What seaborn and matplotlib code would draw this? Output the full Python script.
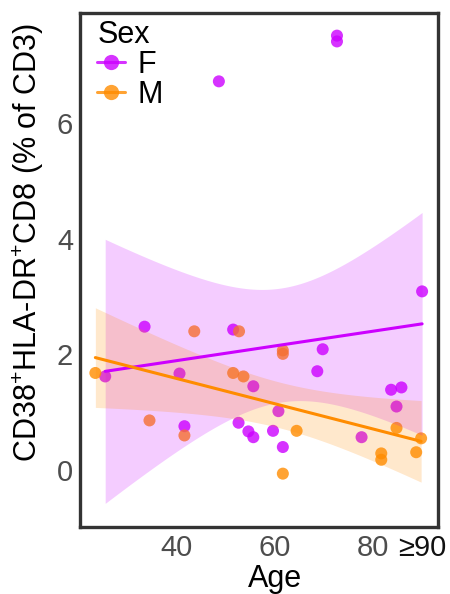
import numpy as np
import pandas as pd
import matplotlib
matplotlib.use("Agg")
import matplotlib.pyplot as plt
from matplotlib.lines import Line2D
import seaborn as sns

# ---- data ----
age_F = [33.6, 25.6, 40.7, 51.6, 41.7, 55.7, 52.7, 54.7, 55.7, 59.7, 60.8,
         61.7, 69.8, 68.7, 77.7, 83.7, 85.8, 84.8, 48.7, 72.7, 72.7, 90.0]
val_F = [2.48, 1.62, 1.67, 2.43, 0.76, 1.45, 0.82, 0.67, 0.57, 0.68, 1.02,
         0.40, 2.09, 1.71, 0.57, 1.39, 1.43, 1.10, 6.72, 7.51, 7.41, 3.09]
age_M = [23.6, 43.7, 52.8, 61.7, 61.7, 51.6, 53.7, 34.6, 41.7, 64.5, 61.7,
         84.8, 81.7, 81.7, 88.8, 89.8]
val_M = [1.68, 2.40, 2.40, 2.07, 2.01, 1.68, 1.62, 0.86, 0.60, 0.68, -0.06,
         0.73, 0.29, 0.18, 0.31, 0.55]
sex_levels = ["F", "M"]
x_ticks = [40, 60, 80, 90]
x_ticklabels = ["40", "60", "80", "\u226590"]
y_ticks = [0, 2, 4, 6]

colors = {"F": "#cc00ff", "M": "#ff8c00"}

df = pd.DataFrame({
    "Age": age_F + age_M,
    "Value": val_F + val_M,
    "Sex": ["F"] * len(age_F) + ["M"] * len(age_M),
})

sns.set_style("white")
plt.rcParams["font.family"] = ["Liberation Sans", "DejaVu Sans"]

fig = plt.figure(figsize=(4.5, 5.94), dpi=100)
ax = fig.add_axes([0.178, 0.113, 0.795, 0.865])

sns.scatterplot(data=df, x="Age", y="Value", hue="Sex", palette=colors,
                s=75, alpha=0.8, edgecolor="none", ax=ax, legend=False, zorder=2)


def t975(dfree):
    try:
        from scipy import stats
        return stats.t.ppf(0.975, dfree)
    except Exception:
        table = {14: 2.145, 20: 2.086}
        return table.get(dfree, 2.1)


for sex in sex_levels:
    sub = df[df["Sex"] == sex]
    x = sub["Age"].to_numpy()
    y = sub["Value"].to_numpy()
    n = len(x)
    b, a = np.polyfit(x, y, 1)
    xs = np.linspace(x.min(), x.max(), 100)
    fit = a + b * xs
    resid = y - (a + b * x)
    s = np.sqrt(np.sum(resid ** 2) / (n - 2))
    sxx = np.sum((x - x.mean()) ** 2)
    se = s * np.sqrt(1.0 / n + (xs - x.mean()) ** 2 / sxx)
    tq = t975(n - 2)
    ax.fill_between(xs, fit - tq * se, fit + tq * se, color=colors[sex],
                    alpha=0.2, linewidth=0, zorder=3)
    sns.lineplot(x=xs, y=fit, color=colors[sex], linewidth=2.2, ax=ax, zorder=4)

ax.set_xlim(20.5, 93.2)
ax.set_ylim(-0.98, 7.9)
ax.set_xticks(x_ticks)
ax.set_xticklabels(x_ticklabels)
ax.set_yticks(y_ticks)
ax.tick_params(axis="both", labelsize=21, colors="#4d4d4d", length=3, width=1.5,
               direction="out", pad=2)
ax.tick_params(axis="both", color="#333333")
ax.xaxis.get_major_ticks()[3].tick1line.set_visible(False)
ax.get_xticklabels()[3].set_color("#111111")
for sp in ax.spines.values():
    sp.set_visible(True)
    sp.set_color("#333333")
    sp.set_linewidth(2.4)

ax.set_xlabel("Age", fontsize=22, color="black")
ax.set_ylabel("CD38$^\\mathregular{+}$HLA-DR$^\\mathregular{+}$CD8 (% of CD3)",
              fontsize=22, color="black")
ax.xaxis.set_label_coords(0.546, -0.073)
ax.yaxis.set_label_coords(-0.095, 0.553)

handles = [Line2D([0], [0], color=colors[s_], marker="o", markersize=11,
                  markeredgecolor="none", alpha=0.8, linewidth=2.2) for s_ in sex_levels]
leg = ax.legend(handles, sex_levels, title="Sex", loc="upper left", frameon=False,
                fontsize=22, title_fontsize=22, handlelength=0.9, handletextpad=0.4,
                labelspacing=0.0, borderaxespad=0.0, borderpad=0.1,
                bbox_to_anchor=(0.04, 0.993), labelcolor="black")
leg.get_title().set_color("black")
leg._legend_box.align = "left"

fig.savefig("out.png", dpi=100)
